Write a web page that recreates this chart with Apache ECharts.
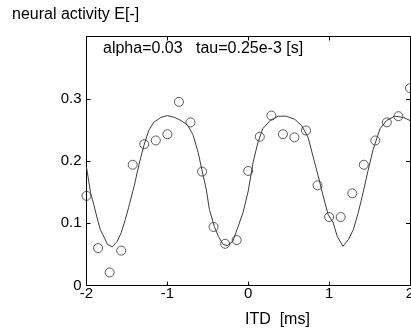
<!DOCTYPE html>
<html>
<head>
<meta charset="utf-8">
<script src="https://cdn.jsdelivr.net/npm/echarts@6/dist/echarts.min.js"></script>
<style>
html,body{margin:0;padding:0;background:#fff;}
#chart{width:411px;height:329px;}
</style>
</head>
<body>
<div id="chart"></div>
<script>
// Measured data points (open circles)
var dataX = [-2, -1.857, -1.714, -1.571, -1.429, -1.286, -1.143, -1.0, -0.857, -0.714,
             -0.571, -0.429, -0.286, -0.143, 0, 0.143, 0.286, 0.429, 0.571, 0.714,
             0.857, 1.0, 1.143, 1.286, 1.429, 1.571, 1.714, 1.857, 2.0];
var dataY = [0.144, 0.060, 0.021, 0.056, 0.194, 0.227, 0.233, 0.243, 0.295, 0.262,
             0.183, 0.094, 0.067, 0.073, 0.184, 0.239, 0.273, 0.243, 0.238, 0.249,
             0.161, 0.110, 0.110, 0.148, 0.194, 0.233, 0.262, 0.272, 0.317];
// Model curve (traced)
var curveX = [-2.0, -1.99, -1.95, -1.91, -1.87, -1.83, -1.78, -1.74, -1.68, -1.62, -1.57, -1.52,
              -1.48, -1.41, -1.35, -1.29, -1.23, -1.17, -1.08, -1.0, -0.91, -0.83, -0.745,
              -0.68, -0.62, -0.57, -0.52, -0.48, -0.42, -0.37, -0.31, -0.26, -0.19, -0.13,
              -0.065, 0.0, 0.06, 0.12, 0.18, 0.27, 0.37, 0.47, 0.575, 0.66, 0.74, 0.80,
              0.865, 0.926, 0.988, 1.05, 1.10, 1.17, 1.24, 1.30, 1.36, 1.42, 1.48, 1.545,
              1.63, 1.71, 1.81, 1.92, 2.0];
var curveY = [0.190, 0.182, 0.149, 0.130, 0.109, 0.090, 0.077, 0.066, 0.062, 0.071, 0.085, 0.106,
              0.125, 0.160, 0.195, 0.225, 0.249, 0.262, 0.270, 0.273, 0.270, 0.265, 0.257,
              0.241, 0.214, 0.184, 0.155, 0.122, 0.095, 0.079, 0.066, 0.064, 0.071, 0.093,
              0.117, 0.152, 0.198, 0.230, 0.252, 0.265, 0.272, 0.272, 0.267, 0.257, 0.238, 0.208,
              0.176, 0.144, 0.114, 0.101, 0.079, 0.063, 0.074, 0.090, 0.117, 0.149, 0.184, 0.219,
              0.252, 0.265, 0.272, 0.270, 0.265];
var xTicks = [-2, -1, 0, 1, 2];
var yTicks = [0, 0.1, 0.2, 0.3];
var yLabelText = 'neural activity E[-]';
var xLabelText = 'ITD  [ms]';
var titleText = 'alpha=0.03   tau=0.25e-3 [s]';

var FONT = 'Liberation Sans, Arial, Helvetica, sans-serif';
var chart = echarts.init(document.getElementById('chart'), null, {renderer: 'canvas'});

function pairs(xs, ys) { return xs.map(function (x, i) { return [x, ys[i]]; }); }

var axisCommon = {
  axisLine: {show: true, onZero: false, lineStyle: {color: '#000', width: 1}},
  axisTick: {show: true, inside: true, length: 4, lineStyle: {color: '#000', width: 1}},
  splitLine: {show: false}
};

chart.setOption({
  animation: false,
  backgroundColor: '#fff',
  grid: {left: 86.5, right: 1, top: 36.5, bottom: 43.5, containLabel: false, outerBoundsMode: 'none'},
  xAxis: [
    Object.assign({
      type: 'value', min: xTicks[0], max: xTicks[xTicks.length - 1], interval: 1, position: 'bottom',
      axisLabel: {show: true, color: '#000', fontFamily: FONT, fontSize: 15, margin: 1,
        hideOverlap: false,
        formatter: function (v) { return xTicks.indexOf(v) >= 0 ? String(v) : ''; }}
    }, axisCommon),
    Object.assign({
      type: 'value', min: xTicks[0], max: xTicks[xTicks.length - 1], interval: 1, position: 'top',
      axisLabel: {show: false}
    }, axisCommon)
  ],
  yAxis: [
    Object.assign({
      type: 'value', min: 0, max: 0.4, interval: 0.1, position: 'left',
      axisLabel: {show: true, color: '#000', fontFamily: FONT, fontSize: 15, margin: 5,
        showMaxLabel: false,
        formatter: function (v) {
          var r = Math.round(v * 10) / 10;
          return yTicks.indexOf(r) >= 0 ? String(r) : '';
        }}
    }, axisCommon),
    Object.assign({
      type: 'value', min: 0, max: 0.4, interval: 0.1, position: 'right',
      axisLabel: {show: false}
    }, axisCommon)
  ],
  graphic: [
    {type: 'text', left: 12, top: 7, style: {text: yLabelText, fill: '#000', font: '16px ' + FONT}},
    {type: 'text', left: 245, top: 312, style: {text: xLabelText, fill: '#000', font: '16px ' + FONT}},
    {type: 'text', left: 103, top: 41, style: {text: titleText, fill: '#000', font: '16px ' + FONT}}
  ],
  series: [
    {
      type: 'line', xAxisIndex: 0, yAxisIndex: 0,
      data: pairs(curveX, curveY), showSymbol: false, symbol: 'none', smooth: false,
      lineStyle: {color: '#3c3c3c', width: 1}, clip: true, z: 2
    },
    {
      type: 'scatter', xAxisIndex: 0, yAxisIndex: 0,
      data: pairs(dataX, dataY), symbol: 'circle', symbolSize: 9,
      itemStyle: {color: 'rgba(0,0,0,0)', borderColor: '#333', borderWidth: 1}, z: 3
    }
  ]
});
</script>
</body>
</html>
